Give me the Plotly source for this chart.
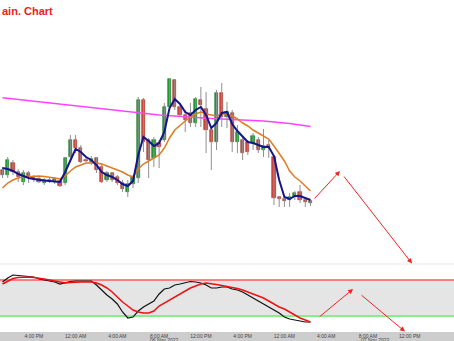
import plotly.graph_objects as go

# ---- data (bar index, price units) ----
idx = list(range(60))
opens  = [130,125,137,128,118,127,123,121,117,120,118,119,117,143,160,152,140,138,142,133,
          120,127,123,117,108,116,122,200,160,142,157,160,193,220,193,185,187,177,200,191,
          170,158,207,183,187,158,160,158,157,160,150,155,143,103,101,100,103,108,100,97]
highs  = [133,143,140,131,130,129,125,123,122,123,123,122,143,165,165,155,143,144,143,137,
          129,128,125,120,120,125,203,202,162,163,160,197,222,221,195,190,197,203,213,208,
          173,210,217,198,190,175,163,160,167,163,171,160,145,104,102,107,109,115,100,100]
lows   = [122,122,125,118,115,117,118,117,115,117,116,113,115,140,147,137,137,135,127,117,
          118,118,115,108,103,112,117,148,122,133,132,158,190,190,183,168,173,173,173,147,
          130,150,173,172,148,147,140,145,150,147,143,142,95,93,93,93,100,97,93,94]
closes = [125,140,128,123,127,123,121,118,120,119,121,114,142,160,152,138,139,141,130,118,
          127,120,117,111,116,123,200,158,140,160,153,193,221,193,185,180,177,201,195,170,
          158,207,183,188,158,168,147,148,164,150,154,152,102,101,99,103,107,100,98,99]
fast_ma = [132,131,129,126,124,122,121,120,119.5,119,118.5,118,128,140,151,148,143,140,135,128,
           125,123,120,116,114,119,145,163,159,154,157,168,192,201,196,188,185,190,193,185,
           172,177,187,188,176,169,163,158,157,155,153,153,144,120,103,101,104,104,102,100]
slow_ma = [112,117,120,122,123,123.5,124,124,123.5,123,122,121,124,129,133,135,137,137,137,136,
           134,132,130,128,125,123,131,136,139,142,145,152,162,170,175,179,183,186,188,186,
           185,184,186,186,184,181,177,174,170,167,164,161,154,147,139,129,123,119,114,109]
long_ma_idx = [0, 12, 25, 30, 40, 50, 55, 59]
long_ma = [202.2, 195.5, 188, 185, 181.5, 179, 176.5, 173.5]

osc_k = [76.7,83.3,88.3,87.5,85.8,85.8,85.0,81.7,80.0,78.3,76.7,73.3,75.8,77.5,78.3,78.3,77.5,78.3,71.7,63.3,
         55.0,48.3,40.0,26.7,16.7,18.3,28.3,35.0,40.0,45.0,56.7,65.0,66.7,71.7,73.3,75.8,77.5,76.7,75.0,71.7,
         66.7,66.7,68.3,68.3,65.0,63.3,60.0,55.0,50.0,45.0,40.0,35.0,30.0,25.0,18.3,15.0,13.3,11.7,10.0,10.0]
osc_d = [73.3,78.3,82.5,84.2,85.0,85.0,84.2,83.3,81.7,80.0,78.3,76.7,75.0,75.8,76.7,76.7,76.7,76.7,75.0,71.7,
         66.7,60.0,51.7,43.3,36.7,30.0,26.7,25.0,25.0,28.3,36.7,41.7,46.7,51.7,56.7,61.7,66.7,70.0,73.3,75.0,
         74.2,72.5,70.8,69.2,68.3,65.8,63.3,60.0,56.7,53.3,50.0,45.0,40.0,35.0,31.7,26.7,21.7,16.7,13.3,10.0]
osc_upper, osc_lower = 80, 20

# forecast arrows: (tail_x, tail_y, head_x, head_y)
price_arrows = [(59.5, 100, 64.65, 129), (65.2, 125, 78.45, 36.5)]
osc_arrows = [(60.45, 16.7, 67.15, 65), (68.5, 56.7, 77.1, -6)]

tick_vals = [-2, 6, 14, 22, 30, 38, 46, 54, 62, 70, 78, 86]
tick_text = ["12:00 PM", "4:00 PM", "12:00 AM", "4:00 AM", "8:00 AM", "12:00 PM",
             "4:00 PM", "12:00 AM", "4:00 AM", "8:00 AM", "12:00 PM", "4:00 PM"]
date_labels = [(31, "06 Nov 2022"), (71.4, "07 Nov 2022")]

# ---- figure ----
fig = go.Figure()
fig.add_trace(go.Scatter(x=long_ma_idx, y=long_ma, mode="lines",
                         line=dict(color="#ff44ff", width=1.5), yaxis="y"))

# candle wicks
wx, wy = [], []
for i, h, l in zip(idx, highs, lows):
    wx += [i, i, None]
    wy += [l, h, None]
fig.add_trace(go.Scatter(x=wx, y=wy, mode="lines", line=dict(color="#8f8f8f", width=1),
                         yaxis="y", hoverinfo="skip"))
# candle bodies
body_base = [min(o, c) for o, c in zip(opens, closes)]
body_len = [max(abs(c - o), 1) for o, c in zip(opens, closes)]
body_col = ["#1f9e34" if c >= o else "#d9453b" for o, c in zip(opens, closes)]
body_edge = ["#15702a" if c >= o else "#9e3028" for o, c in zip(opens, closes)]
fig.add_trace(go.Bar(x=idx, y=body_len, base=body_base, width=0.62, yaxis="y",
                     marker=dict(color=body_col, line=dict(color=body_edge, width=0.6))))

fig.add_trace(go.Scatter(x=idx, y=slow_ma, mode="lines",
                         line=dict(color="#e07b25", width=1.5), yaxis="y"))
fig.add_trace(go.Scatter(x=idx, y=fast_ma, mode="lines",
                         line=dict(color="#14148c", width=2), yaxis="y"))
fig.add_trace(go.Scatter(x=idx, y=osc_k, mode="lines",
                         line=dict(color="#111111", width=1.2), yaxis="y2"))
fig.add_trace(go.Scatter(x=idx, y=osc_d, mode="lines",
                         line=dict(color="#ee1111", width=1.5), yaxis="y2"))

H_PLOT = 332.0
split = (H_PLOT - 264) / H_PLOT

shapes = [
    dict(type="rect", xref="paper", yref="y2", x0=0, x1=1, y0=osc_lower, y1=osc_upper,
         fillcolor="#e5e5e5", line=dict(width=0), layer="below"),
    dict(type="line", xref="paper", yref="y2", x0=0, x1=1, y0=osc_upper, y1=osc_upper,
         line=dict(color="#ff5a5a", width=1.5), layer="below"),
    dict(type="line", xref="paper", yref="y2", x0=0, x1=1, y0=osc_lower, y1=osc_lower,
         line=dict(color="#88ee88", width=2), layer="below"),
    dict(type="line", xref="paper", yref="paper", x0=0, x1=1, y0=split, y1=split,
         line=dict(color="#e6e6e6", width=1), layer="below"),
    dict(type="rect", xref="paper", yref="paper", x0=0, x1=1, y0=-9 / H_PLOT, y1=0,
         fillcolor="#cdcdcd", line=dict(width=0), layer="below"),
]

annotations = [
    dict(text="<b>ain. Chart</b>", xref="paper", yref="paper", x=0, y=(H_PLOT - 11) / H_PLOT,
         xanchor="left", yanchor="middle", showarrow=False,
         font=dict(family="Liberation Sans", size=11, color="#ee1c1c")),
]
for tx, ty, hx, hy in price_arrows:
    annotations.append(dict(x=hx, y=hy, ax=tx, ay=ty, xref="x", yref="y", axref="x", ayref="y",
                            text="", showarrow=True, arrowhead=2, arrowsize=1, arrowwidth=1,
                            arrowcolor="#ee2222"))
for tx, ty, hx, hy in osc_arrows:
    annotations.append(dict(x=hx, y=hy, ax=tx, ay=ty, xref="x", yref="y2", axref="x", ayref="y2",
                            text="", showarrow=True, arrowhead=2, arrowsize=1, arrowwidth=1,
                            arrowcolor="#ee2222"))
for dx, dt in date_labels:
    annotations.append(dict(text=dt, x=dx, xref="x", y=-8.0 / H_PLOT, yref="paper",
                            showarrow=False, yanchor="middle",
                            font=dict(family="Liberation Sans", size=5, color="#444444")))

fig.update_layout(
    width=454, height=341, margin=dict(l=0, r=0, t=0, b=9),
    paper_bgcolor="white", plot_bgcolor="white", showlegend=False, bargap=0,
    xaxis=dict(range=[-0.48, 86.49], anchor="y2", tickvals=tick_vals, ticktext=tick_text,
               tickfont=dict(family="Liberation Sans", size=5, color="#444444"),
               showgrid=False, zeroline=False, ticks="",
               ticklabelstandoff=0),
    yaxis=dict(domain=[split, 1], range=[36, 300], visible=False, showgrid=False),
    yaxis2=dict(domain=[0, split], range=[-6.67, 106.67], visible=False, showgrid=False),
    shapes=shapes, annotations=annotations,
)

fig.write_html("out.html")
